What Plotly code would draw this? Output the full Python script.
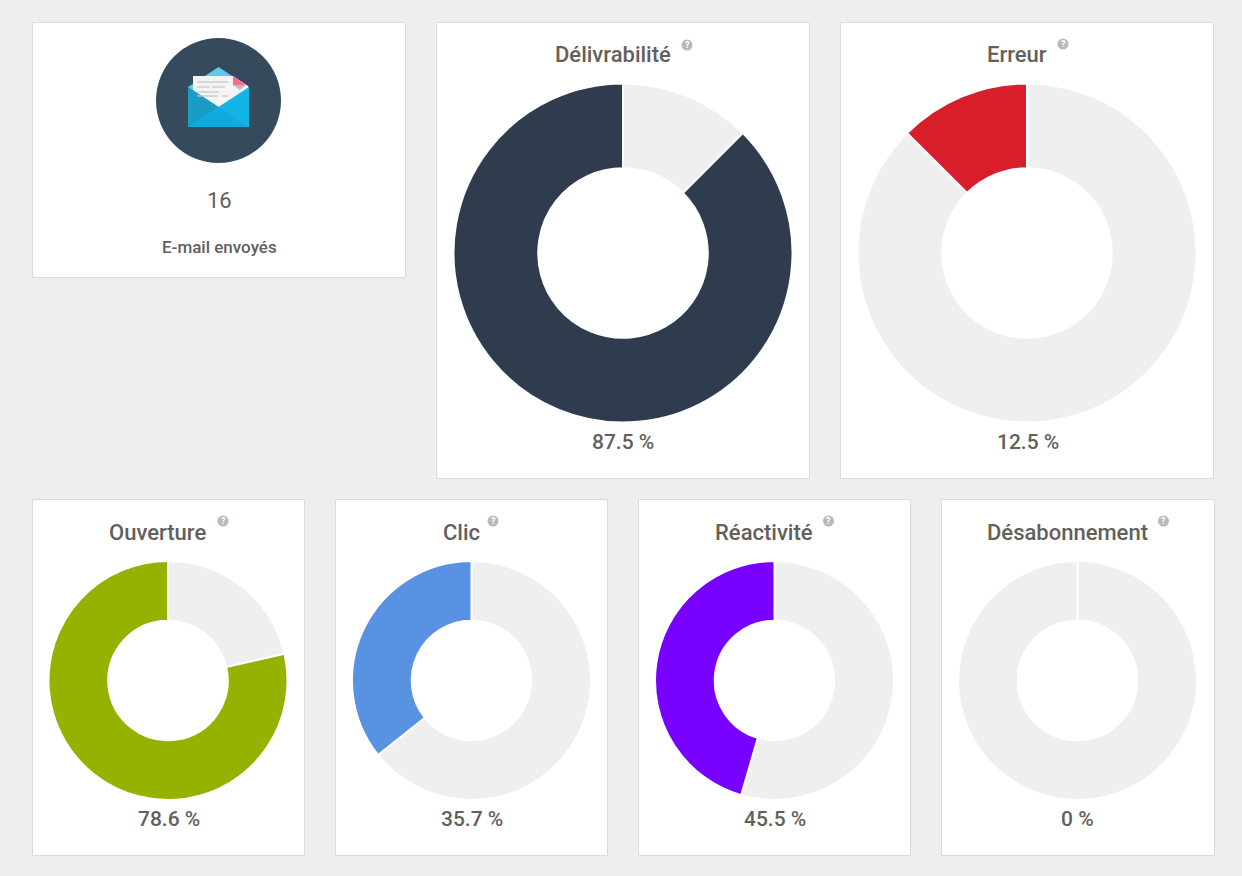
import plotly.graph_objects as go

W, H = 1242, 876
BG = "#eeeeee"
GRAY = "#efefef"
TEXT = "#63605c"

titles = ["Délivrabilité", "Erreur", "Ouverture", "Clic", "Réactivité", "Désabonnement"]
percents = [87.5, 12.5, 78.6, 35.7, 45.5, 0]
percent_labels = ["87.5 %", "12.5 %", "78.6 %", "35.7 %", "45.5 %", "0 %"]
colors = ["#2f3c4e", "#d81e2b", "#94b200", "#5a92e2", "#7700ff", "#efefef"]
sent_count = "16"
sent_label = "E-mail envoyés"

# layout in pixels
cards = [(32.5, 22.5, 405.5, 277.5), (436.5, 22.5, 809.5, 478.5), (840.5, 22.5, 1213.5, 478.5),
         (32.5, 499.5, 304.5, 855.5), (335.5, 499.5, 607.5, 855.5), (638.5, 499.5, 910.5, 855.5),
         (941.5, 499.5, 1214.5, 855.5)]
centers = [(623, 253, 169.5), (1027, 253, 169.5), (168, 680.5, 119.5),
           (471.5, 680.5, 119.5), (774.5, 680.5, 119.5), (1077.5, 680.5, 119.5)]
title_pos = [(612.5, 55), (1016.5, 55), (157.5, 532), (461, 532), (764, 532), (1067.5, 532)]
help_pos = [(687, 45), (1063, 44), (223, 521), (493, 521), (828.5, 521), (1163.5, 521)]
pct_y = [441.5, 441.5, 818.5, 818.5, 818.5, 818.5]
pct_x = [622.5, 1027.5, 168.5, 471.5, 774.5, 1077.5]


def px(x):
    return x / W


def py(y):
    return 1 - y / H


def rect(x0, y0, x1, y1, **kw):
    return dict(type="rect", xref="paper", yref="paper", layer="below",
                x0=px(x0), x1=px(x1), y0=py(y0), y1=py(y1), **kw)


def circle(cx, cy, r, color, layer="below"):
    return dict(type="circle", xref="paper", yref="paper", layer=layer,
                x0=px(cx - r), x1=px(cx + r), y0=py(cy - r), y1=py(cy + r),
                fillcolor=color, line=dict(width=0))


def poly(points, color):
    d = "M" + " L".join(f"{px(x):.5f},{py(y):.5f}" for x, y in points) + " Z"
    return dict(type="path", xref="paper", yref="paper", layer="below", path=d,
                fillcolor=color, line=dict(width=0))


def label(text, x, y, size, weight=500, color=TEXT):
    return dict(text=text, x=px(x), y=py(y), xref="paper", yref="paper", showarrow=False,
                xanchor="center", yanchor="middle",
                font=dict(size=size, color=color, weight=weight))


fig = go.Figure()
shapes = []
annotations = []

for c in cards:
    shapes.append(rect(*c, fillcolor="white", line=dict(color="#dadada", width=1)))

for i, t in enumerate(titles):
    cx, cy, r = centers[i]
    p = percents[i]
    fig.add_trace(go.Pie(
        values=[100 - p, p],
        labels=["reste", t],
        sort=False,
        direction="clockwise",
        rotation=0,
        hole=0.5,
        textinfo="none",
        hoverinfo="label+percent",
        showlegend=False,
        marker=dict(colors=[GRAY, colors[i]], line=dict(color="white", width=2)),
        domain=dict(x=[px(cx - r), px(cx + r)], y=[py(cy + r), py(cy - r)]),
    ))
    annotations.append(label(t, *title_pos[i], 22))
    annotations.append(label(percent_labels[i], pct_x[i], pct_y[i], 21))
    hx, hy = help_pos[i]
    shapes.append(circle(hx, hy, 5.5, "#b9b9b9"))
    annotations.append(label("?", hx, hy, 9, weight=700, color="white"))

# count card
annotations.append(label(sent_count, 219, 200, 22, weight=400))
annotations.append(label(sent_label, 219, 247, 17))

# envelope icon
shapes.append(circle(218.5, 100.5, 62.5, "#364a5e"))
shapes += [
    poly([(188, 87), (218.5, 67), (249, 87), (249, 100), (188, 100)], "#5fc8ef"),
    poly([(193, 76), (233, 76), (248, 86), (248, 95), (218.5, 107), (193, 95)], "#f4f4f4"),
    poly([(233, 76), (246, 85), (233, 85)], "#f26f95"),
    poly([(233, 85), (246, 85), (240, 90)], "#bdbdbd"),
    poly([(188, 87), (218.5, 107), (249, 87), (249, 127), (188, 127)], "#12b5e6"),
    poly([(188, 87), (218.5, 107), (188, 127)], "#1a9cc4"),
    poly([(188, 127), (218.5, 107), (249, 127)], "#14a8e0"),
]
for x0, x1, y in [(197, 228, 82), (197, 210, 87), (212, 225, 87), (197, 219, 92), (197, 218, 96), (222, 228, 96)]:
    shapes.append(dict(type="line", xref="paper", yref="paper", layer="below",
                       x0=px(x0), x1=px(x1), y0=py(y), y1=py(y),
                       line=dict(color="#c4c4c4", width=1.2)))

fig.update_layout(
    width=W, height=H,
    margin=dict(l=0, r=0, t=0, b=0, autoexpand=False),
    paper_bgcolor=BG, plot_bgcolor=BG,
    font=dict(family="Roboto, sans-serif"),
    shapes=shapes, annotations=annotations,
)
fig.write_html("out.html", post_script="document.body.style.margin='0';document.body.style.overflow='hidden';",
               config={"displayModeBar": False})
